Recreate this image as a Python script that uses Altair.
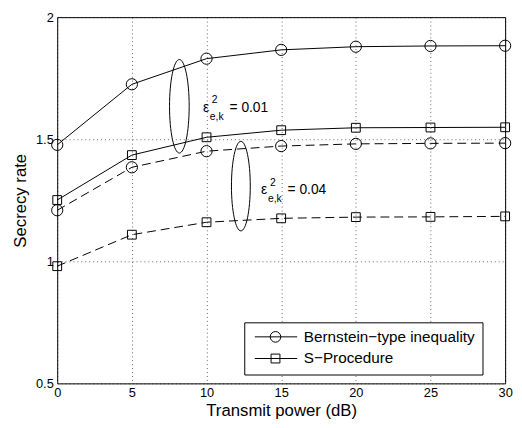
import altair as alt
import pandas as pd

# ---------------- data ----------------
power_db = [0, 5, 10, 15, 20, 25, 30]
bern_001 = [1.477, 1.725, 1.830, 1.866, 1.879, 1.882, 1.883]
sproc_001 = [1.251, 1.435, 1.508, 1.537, 1.547, 1.548, 1.549]
bern_004 = [1.209, 1.385, 1.451, 1.472, 1.481, 1.483, 1.484]
sproc_004 = [0.980, 1.109, 1.160, 1.176, 1.181, 1.182, 1.184]

methods = ["Bernstein\u2212type inequality", "S\u2212Procedure"]
eps_levels = ["0.01", "0.04"]
x_ticks = [0, 5, 10, 15, 20, 25, 30]
y_ticks = [0.5, 1, 1.5, 2]

# annotation anchors (data coordinates)
ell_x = [8.18, 12.30]
ell_y = [1.635, 1.308]
ann_x = [9.76, 13.65]
ann_y = [1.613, 1.274]
ann_val = ["= 0.01", "= 0.04"]

FONT = "Liberation Sans"

rows = []
for method, eps, vals in [
    (methods[0], eps_levels[0], bern_001),
    (methods[1], eps_levels[0], sproc_001),
    (methods[0], eps_levels[1], bern_004),
    (methods[1], eps_levels[1], sproc_004),
]:
    for x, y in zip(power_db, vals):
        rows.append({"x": x, "y": y, "method": method, "eps": eps})
df = pd.DataFrame(rows)

xs = alt.Scale(domain=[0, 30], nice=False, zero=False)
ys = alt.Scale(domain=[0.5, 2], nice=False, zero=False)

X = alt.X("x:Q", scale=xs,
          axis=alt.Axis(values=x_ticks, title="Transmit power (dB)", labelPadding=3,
                        titlePadding=4, labelFlush=False))
Y = alt.Y("y:Q", scale=ys,
          axis=alt.Axis(values=y_ticks, title="Secrecy rate", labelPadding=4,
                        titlePadding=6, labelFlush=False,
                        labelExpr="format(datum.value, '~g')"))

base = alt.Chart(df)

solid = base.transform_filter(alt.datum.eps == "0.01").mark_line(
    color="black", strokeWidth=1).encode(x=X, y=Y, detail="method:N")
dashed = base.transform_filter(alt.datum.eps == "0.04").mark_line(
    color="black", strokeWidth=1, strokeDash=[9, 5]).encode(x=X, y=Y, detail="method:N")

circles = base.transform_filter(alt.datum.method == methods[0]).mark_point(
    shape="circle", filled=False, color="black", size=130, strokeWidth=1, opacity=1
).encode(x=X, y=Y)
squares = base.transform_filter(alt.datum.method == methods[1]).mark_point(
    shape="square", filled=False, color="black", size=80, strokeWidth=1, opacity=1
).encode(x=X, y=Y)

# ellipses
ell_path = "M-0.21,0A0.21,1 0 1,0 0.21,0A0.21,1 0 1,0 -0.21,0Z"
ell_df = pd.DataFrame({"x": ell_x, "y": ell_y, "s": [9025, 8281]})
ellipses = alt.Chart(ell_df).mark_point(
    shape=ell_path, filled=False, color="black", strokeWidth=1, opacity=1
).encode(x=alt.X("x:Q", scale=xs), y=alt.Y("y:Q", scale=ys),
         size=alt.Size("s:Q", scale=None, legend=None))

# annotation texts
ann_df = pd.DataFrame({"x": ann_x, "y": ann_y, "v": ann_val})
annb = alt.Chart(ann_df)
t_eps = annb.mark_text(text="\u03b5", font=FONT, fontSize=14, align="left",
                       baseline="alphabetic", color="black").encode(
    x=alt.X("x:Q", scale=xs), y=alt.Y("y:Q", scale=ys))
t_sup = annb.mark_text(text="2", font=FONT, fontSize=10.5, align="left",
                       baseline="alphabetic", color="black", dx=9, dy=-9).encode(
    x=alt.X("x:Q", scale=xs), y=alt.Y("y:Q", scale=ys))
t_sub = annb.mark_text(text="e,k", font=FONT, fontSize=10.5, align="left",
                       baseline="alphabetic", color="black", dx=7, dy=8).encode(
    x=alt.X("x:Q", scale=xs), y=alt.Y("y:Q", scale=ys))
t_val = annb.mark_text(font=FONT, fontSize=14, align="left",
                       baseline="alphabetic", color="black", dx=27).encode(
    x=alt.X("x:Q", scale=xs), y=alt.Y("y:Q", scale=ys), text="v:N")

# legend (symbols combine line + marker)
circ_sym = "M-0.67,0L6.5,0M1.93,0A0.9,0.9 0 1,0 3.73,0A0.9,0.9 0 1,0 1.93,0"
sq_sym = "M-0.67,0L6.5,0M2.08,-0.75L3.58,-0.75L3.58,0.75L2.08,0.75Z"
legend_layer = base.transform_filter("false").mark_point(
    filled=False, color="black", opacity=1, strokeWidth=1
).encode(
    x=alt.X("x:Q", scale=xs), y=alt.Y("y:Q", scale=ys),
    shape=alt.Shape("method:N",
                    scale=alt.Scale(domain=methods, range=[circ_sym, sq_sym]),
                    legend=alt.Legend(title=None, orient="none", legendX=190, legendY=310,
                                      strokeColor="black", fillColor="white",
                                      padding=7, symbolSize=144,
                                      symbolStrokeColor="black",
                                      symbolFillColor="transparent",
                                      symbolStrokeWidth=1,
                                      labelFont=FONT, labelFontSize=15.5,
                                      labelColor="black", labelOffset=38,
                                      rowPadding=5, labelLimit=400))
)

chart = alt.layer(
    solid, dashed, circles, squares, ellipses, t_eps, t_sup, t_sub, t_val, legend_layer
).properties(
    width=455, height=372,
    autosize=alt.AutoSizeParams(type="none"),
    padding={"left": 50, "top": 6, "right": 9, "bottom": 40},
    background="white",
).configure_view(
    stroke="black", strokeWidth=1
).configure_axis(
    domain=False, ticks=False, grid=True, gridDash=[1, 3], gridColor="#000",
    gridOpacity=0.6, gridWidth=1,
    labelFont=FONT, labelFontSize=13, labelColor="black",
    titleFont=FONT, titleFontSize=17, titleFontWeight="normal", titleColor="black",
)

chart.save("out.html", embed_options={"renderer": "svg", "actions": False})
